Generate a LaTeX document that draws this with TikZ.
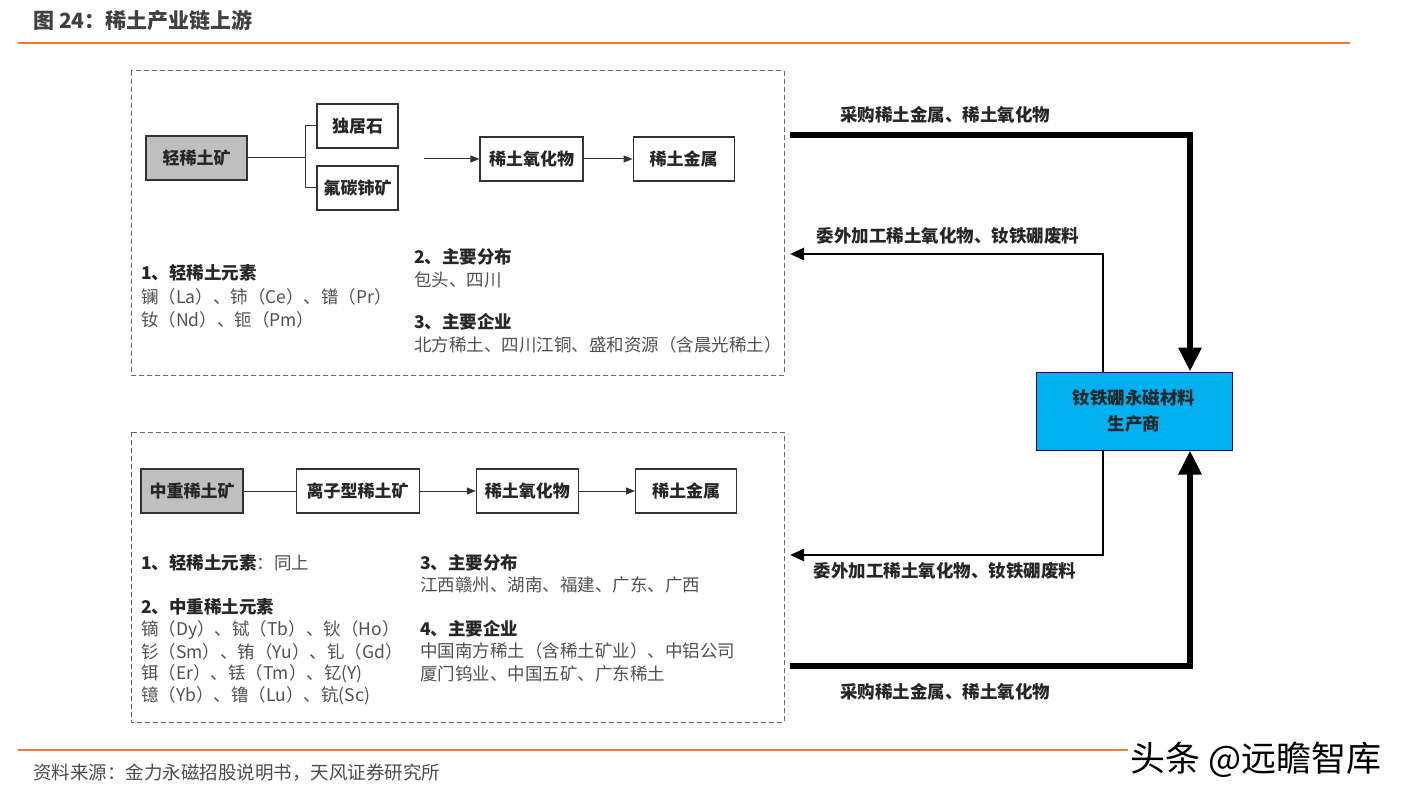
\documentclass[tikz,border=0pt]{standalone}
\usepackage{fontspec}
\setmainfont{Noto Sans CJK SC}
\usetikzlibrary{positioning,arrows.meta}

\definecolor{rulecol}{RGB}{237,125,49}
\definecolor{oregray}{RGB}{191,191,191}
\definecolor{makerblue}{RGB}{0,176,240}
\definecolor{txtgray}{RGB}{80,80,80}

\begin{document}
\begin{tikzpicture}[x=1pt,y=-1pt,
  box/.style={draw=black!80, line width=1.2pt, minimum height=44pt, inner sep=0pt,
    font=\fontsize{17}{19}\selectfont\bfseries, text=black!85},
  ore/.style={box, fill=oregray},
  txt/.style={anchor=west, inner sep=0pt, font=\fontsize{17.5}{19}\selectfont, text=txtgray},
  head/.style={txt, font=\fontsize{17.5}{19}\selectfont\bfseries, text=black!85},
  flow/.style={draw=black!80, line width=1pt, -{Triangle[length=9pt,width=7pt]}},
  link/.style={draw=black!80, line width=1pt},
  frame/.style={draw=black!60, dash pattern=on 5pt off 3pt, line width=1pt},
  buy/.style={draw=black, line width=6pt, -{Triangle[length=24pt,width=22pt]}},
  back/.style={draw=black, line width=2.5pt, -{Triangle[length=14pt,width=12pt]}},
  lab/.style={inner sep=0pt, font=\fontsize{17.5}{19}\selectfont\bfseries, text=black!85}
]
  \useasboundingbox (0,0) rectangle (1407,799);

  % title and rules
  \node[anchor=west, inner sep=0pt, font=\fontsize{21}{24}\selectfont\bfseries, text=black!75]
    (title) at (33,21) {图 24：稀土产业链上游};
  \draw[rulecol, line width=2pt] (18,43) -- (1350,43);
  \draw[rulecol, line width=2pt] (18,750) -- (1128,750);

  % light rare earth
  \draw[frame] (131,71) rectangle (784,375);

  \node[ore, minimum width=101pt] (light) at (196.5,158) {轻稀土矿};
  \node[box, minimum width=81pt] (mona) at (357.5,126) {独居石};
  \node[box, minimum width=81pt] (bast) at (357.5,188) {氟碳铈矿};
  \node[box, minimum width=103pt] (oxide1) at (531.5,159) {稀土氧化物};
  \node[box, minimum width=101pt, right=49pt of oxide1] (metal1) {稀土金属};

  \coordinate (fork) at (305,158);
  \coordinate (feed) at (424,159);
  \draw[link] (light) -- (fork);
  \draw[link] (fork |- mona) -- (fork |- bast);
  \draw[link] (fork |- mona) -- (mona);
  \draw[link] (fork |- bast) -- (bast);
  \draw[flow] (feed) -- (oxide1);
  \draw[flow] (oxide1) -- (metal1);

  \node[head] (l_el) at (141,273) {1、轻稀土元素};
  \node[txt] (l_el1) at (141,297) {镧（La）、铈（Ce）、镨（Pr）};
  \node[txt] (l_el2) at (141,320) {钕（Nd）、钷（Pm）};
  \node[head] (l_loc) at (414,257) {2、主要分布};
  \node[txt] (l_loc1) at (414,280) {包头、四川};
  \node[head] (l_co) at (414,322) {3、主要企业};
  \node[txt] (l_co1) at (414,345) {北方稀土、四川江铜、盛和资源（含晨光稀土）};

  % medium and heavy rare earth
  \draw[frame] (131,432) rectangle (784,722);

  \node[ore, minimum width=102pt] (heavy) at (192,491) {中重稀土矿};
  \node[box, minimum width=123pt, right=52pt of heavy] (ion) {离子型稀土矿};
  \node[box, minimum width=102pt, right=56pt of ion] (oxide2) {稀土氧化物};
  \node[box, minimum width=101pt, right=56pt of oxide2] (metal2) {稀土金属};

  \draw[link] (heavy) -- (ion);
  \draw[flow] (ion) -- (oxide2);
  \draw[flow] (oxide2) -- (metal2);

  \node[head] (h_el) at (141,563) {1、轻稀土元素\textmd{\color{txtgray}：同上}};
  \node[head] (h_el2) at (141,607) {2、中重稀土元素};
  \node[txt] (h_el3) at (141,630) {镝（Dy）、铽（Tb）、钬（Ho）};
  \node[txt] (h_el4) at (141,652) {钐（Sm）、铕（Yu）、钆（Gd）};
  \node[txt] (h_el5) at (141,674) {铒（Er）、铥（Tm）、钇(Y)};
  \node[txt] (h_el6) at (141,696) {镱（Yb）、镥（Lu）、钪(Sc)};
  \node[head] (h_loc) at (420,563) {3、主要分布};
  \node[txt] (h_loc1) at (420,585) {江西赣州、湖南、福建、广东、广西};
  \node[head] (h_co) at (420,629) {4、主要企业};
  \node[txt] (h_co1) at (420,651) {中国南方稀土（含稀土矿业）、中铝公司};
  \node[txt] (h_co2) at (420,674) {厦门钨业、中国五矿、广东稀土};

  % magnet maker
  \node[draw=blue!50!black, fill=makerblue, line width=1pt, minimum width=196pt,
    minimum height=78pt, align=center, font=\fontsize{17.5}{26}\selectfont\bfseries,
    text=black!85] (maker) at (1134,411) {钕铁硼永磁材料\\生产商};

  \coordinate (buy_top) at (790,135);
  \coordinate (buy_bot) at (790,666);
  \coordinate (back_top) at (790,254);
  \coordinate (back_bot) at (790,555);

  \draw[buy] (buy_top) -| ([xshift=56pt]maker.north);
  \draw[buy] (buy_bot) -| ([xshift=56pt]maker.south);
  \draw[back] ([xshift=-31pt]maker.north) |- (back_top);
  \draw[back] ([xshift=-31pt]maker.south) |- (back_bot);

  \node[lab] (buy_lab1) at (945,115) {采购稀土金属、稀土氧化物};
  \node[lab] (back_lab1) at (948,236) {委外加工稀土氧化物、钕铁硼废料};
  \node[lab] (back_lab2) at (945,571) {委外加工稀土氧化物、钕铁硼废料};
  \node[lab] (buy_lab2) at (945,692) {采购稀土金属、稀土氧化物};

  % footer
  \node[anchor=west, inner sep=0pt, font=\fontsize{18.5}{20}\selectfont, text=black!70]
    (source) at (33,773) {资料来源：金力永磁招股说明书，天风证券研究所};
  \node[inner sep=0pt, font=\fontsize{35}{38}\selectfont, text=black] (mark) at (1256,760) {头条 @远瞻智库};

\end{tikzpicture}
\end{document}
